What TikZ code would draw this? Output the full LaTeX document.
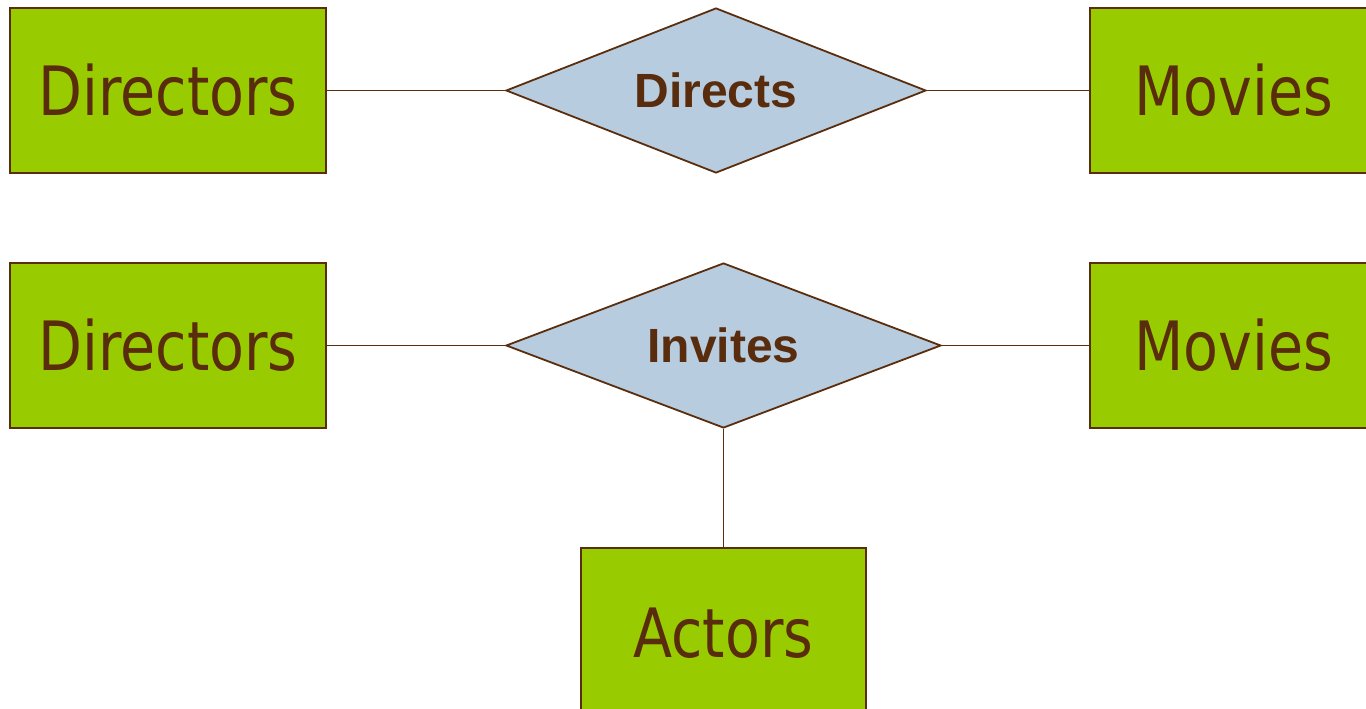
\documentclass[tikz,border=0pt]{standalone}
\usepackage{fontspec}
\usetikzlibrary{shapes.geometric}
\newfontfamily\entfont[FakeStretch=0.84]{DejaVu Sans}
\newfontfamily\relfont{Liberation Sans}
\definecolor{entgreen}{HTML}{99CC00}
\definecolor{relblue}{HTML}{B8CCE0}
\definecolor{edgebrown}{HTML}{5A2D0C}
\definecolor{textbrown}{HTML}{582C0C}
\tikzset{
  entity/.style={rectangle, draw=edgebrown, line width=2.2pt, fill=entgreen,
    text=textbrown, inner sep=0pt, minimum height=165pt,
    font=\entfont\fontsize{68}{70}\selectfont},
  relation/.style={diamond, draw=edgebrown, line width=1.8pt, fill=relblue,
    text=textbrown, inner sep=0pt, minimum height=165pt,
    font=\relfont\bfseries\fontsize{48}{52}\selectfont},
  link/.style={draw=edgebrown, line width=1.8pt}
}
\begin{document}
\begin{tikzpicture}[x=1pt,y=-1pt]
\useasboundingbox (0,0) rectangle (1366,709);
\clip (0,0) rectangle (1366,709);
% row 1
\node[entity, minimum width=316pt] (dir1) at (168,90.5) {Directors};
\node[relation, aspect=2.545, minimum width=420pt] (rel1) at (716,90.5) {Directs};
\node[entity, minimum width=288pt] (mov1) at (1234,90.5) {Movies};
% row 2
\node[entity, minimum width=316pt] (dir2) at (168,345.5) {Directors};
\node[relation, aspect=2.636, minimum width=435pt] (rel2) at (723.5,345.5) {Invites};
\node[entity, minimum width=288pt] (mov2) at (1234,345.5) {Movies};
\node[entity, minimum width=285pt, minimum height=170pt] (act) at (723.5,633) {Actors};
% connectors
\draw[link] (dir1.east) -- (rel1.west);
\draw[link] (rel1.east) -- (mov1.west);
\draw[link] (dir2.east) -- (rel2.west);
\draw[link] (rel2.east) -- (mov2.west);
\draw[link] (rel2.south) -- (act.north);
\end{tikzpicture}
\end{document}
